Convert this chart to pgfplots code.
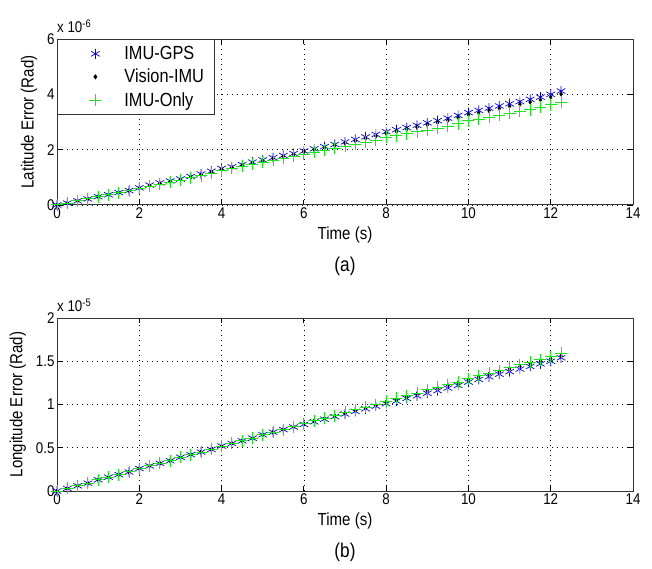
\documentclass[border=0pt]{standalone}
\usepackage{fontspec}
\setmainfont{Liberation Sans}[FakeStretch=0.86]
\usepackage{pgfplots}
\pgfplotsset{compat=1.18}
\usepackage{pgfplotstable}
\definecolor{mblue}{RGB}{0,0,255}
\definecolor{mgreen}{RGB}{20,235,20}

% latitude error, units of 1e-6 rad
\pgfplotstableread{
t     gps   vis   imu
0     0     0     0
0.25  0.07  0.07  0.07
0.5   0.15  0.15  0.15
0.75  0.22  0.22  0.23
1     0.30  0.30  0.30
1.25  0.37  0.37  0.37
1.5   0.45  0.45  0.45
1.75  0.52  0.52  0.52
2     0.62  0.61  0.60
2.25  0.72  0.70  0.67
2.5   0.80  0.78  0.75
2.75  0.87  0.85  0.82
3     0.94  0.93  0.90
3.25  1.03  1.01  0.98
3.5   1.12  1.10  1.06
3.75  1.22  1.20  1.14
4     1.32  1.30  1.24
4.25  1.38  1.36  1.33
4.5   1.46  1.44  1.40
4.75  1.55  1.53  1.48
5     1.63  1.60  1.55
5.25  1.71  1.68  1.62
5.5   1.79  1.76  1.69
5.75  1.86  1.83  1.76
6     1.95  1.92  1.84
6.25  2.03  2.00  1.91
6.5   2.11  2.07  1.98
6.75  2.19  2.15  2.05
7     2.28  2.24  2.12
7.25  2.37  2.32  2.19
7.5   2.46  2.41  2.26
7.75  2.55  2.49  2.34
8     2.65  2.59  2.44
8.25  2.72  2.66  2.50
8.5   2.80  2.74  2.57
8.75  2.88  2.81  2.64
9     2.97  2.90  2.71
9.25  3.05  2.98  2.78
9.5   3.14  3.06  2.85
9.75  3.24  3.16  2.94
10    3.34  3.26  3.04
10.25 3.42  3.33  3.10
10.5  3.50  3.41  3.17
10.75 3.58  3.49  3.24
11    3.66  3.57  3.31
11.25 3.74  3.64  3.38
11.5  3.82  3.72  3.45
11.75 3.90  3.80  3.53
12    4.00  3.90  3.62
12.25 4.12  4.01  3.71
}\lat

% longitude error, units of 1e-5 rad
\pgfplotstableread{
t     gps   vis   imu
0     0     0     0
0.25  0.03  0.03  0.03
0.5   0.06  0.06  0.06
0.75  0.09  0.09  0.09
1     0.13  0.13  0.13
1.25  0.16  0.16  0.16
1.5   0.19  0.19  0.19
1.75  0.22  0.22  0.22
2     0.26  0.26  0.26
2.25  0.29  0.29  0.29
2.5   0.32  0.32  0.32
2.75  0.35  0.35  0.35
3     0.39  0.39  0.39
3.25  0.42  0.42  0.42
3.5   0.45  0.45  0.45
3.75  0.48  0.48  0.48
4     0.52  0.52  0.52
4.25  0.55  0.55  0.55
4.5   0.58  0.58  0.58
4.75  0.61  0.61  0.61
5     0.65  0.65  0.65
5.25  0.68  0.68  0.68
5.5   0.71  0.71  0.71
5.75  0.74  0.74  0.74
6     0.77  0.78  0.78
6.25  0.80  0.81  0.81
6.5   0.83  0.84  0.84
6.75  0.86  0.87  0.87
7     0.89  0.90  0.91
7.25  0.92  0.93  0.94
7.5   0.95  0.96  0.97
7.75  0.98  0.99  1.00
8     1.01  1.03  1.04
8.25  1.04  1.06  1.07
8.5   1.07  1.09  1.10
8.75  1.10  1.12  1.13
9     1.13  1.16  1.17
9.25  1.16  1.19  1.20
9.5   1.19  1.22  1.23
9.75  1.22  1.25  1.26
10    1.26  1.29  1.30
10.25 1.29  1.32  1.33
10.5  1.32  1.35  1.36
10.75 1.35  1.38  1.39
11    1.38  1.41  1.43
11.25 1.41  1.44  1.46
11.5  1.44  1.47  1.49
11.75 1.47  1.50  1.52
12    1.50  1.53  1.55
12.25 1.54  1.56  1.59
}\lon

\newcommand\mfont{\fontsize{17.5}{20}\selectfont}
\newcommand\lfont{\fontsize{19}{21}\selectfont}
\newcommand\tfont{\fontsize{15.5}{18}\selectfont}

\pgfplotsset{
  mlab/.style={
    scale only axis, width=576pt,
    xmin=0, xmax=14, xtick={0,2,...,14},
    clip=false,
    grid=major,
    major grid style={black, line width=0.7pt, dash pattern=on 0.8pt off 4.2pt},
    axis line style={black!80, line width=1pt},
    tick style={black, line width=0.8pt},
    tick align=inside, major tick length=5pt,
    font=\mfont,
    /pgf/number format/assume math mode=true,
    scaled ticks=false,
    xlabel={Time (s)},
    xlabel style={yshift=-1pt},
    ylabel style={yshift=3pt},
    every tick label/.append style={font=\tfont},
    xticklabel style={yshift=1pt},
    yticklabel style={xshift=1pt},
  },
  mleg/.style={legend image code/.code={\path[draw=none] (0pt,0pt) -- (57pt,0pt);
    \draw[##1] plot coordinates {(30pt,0pt)};}},
  gps/.style={only marks, mark=asterisk, color=mblue, mark size=5pt, line width=0.7pt, mleg},
  vis/.style={only marks, mark=diamond*, black, mark size=2pt, mleg},
  imu/.style={only marks, mark=+, color=mgreen, mark size=6pt, line width=1pt, mleg},
}

\begin{document}
\begin{tikzpicture}
\useasboundingbox (-57pt,-364pt) rectangle (595pt,205pt);

\begin{axis}[mlab, at={(0pt,0pt)}, anchor=south west, height=166pt,
  ymin=0, ymax=6, ytick={0,2,4,6},
  ylabel={Latitude Error (Rad)},
  legend style={at={(0,1)}, anchor=north west, draw=black!80, line width=0.8pt, fill=white,
    nodes={font=\lfont}, row sep=4pt, inner xsep=8pt, inner ysep=5pt,
    cells={anchor=west}}]
\addplot[gps] table[x=t, y=gps] {\lat};
\addplot[vis] table[x=t, y=vis] {\lat};
\addplot[imu] table[x=t, y=imu] {\lat};
\legend{IMU-GPS, Vision-IMU, IMU-Only}
\node[anchor=south west, inner sep=0pt, yshift=6pt, font=\tfont] at (rel axis cs:0,1) {x 10\textsuperscript{-6}};
\node[yshift=-61pt, font=\fontsize{20}{22}\selectfont] at (rel axis cs:0.5,0) {(a)};
\end{axis}

\begin{axis}[mlab, at={(0pt,-286pt)}, anchor=south west, height=173pt,
  ymin=0, ymax=2, ytick={0,0.5,1,1.5,2},
  ylabel={Longitude Error (Rad)}]
\addplot[gps] table[x=t, y=gps] {\lon};
\addplot[vis] table[x=t, y=vis] {\lon};
\addplot[imu] table[x=t, y=imu] {\lon};
\node[anchor=south west, inner sep=0pt, yshift=6pt, font=\tfont] at (rel axis cs:0,1) {x 10\textsuperscript{-5}};
\node[yshift=-61pt, font=\fontsize{20}{22}\selectfont] at (rel axis cs:0.5,0) {(b)};
\end{axis}
\end{tikzpicture}
\end{document}
